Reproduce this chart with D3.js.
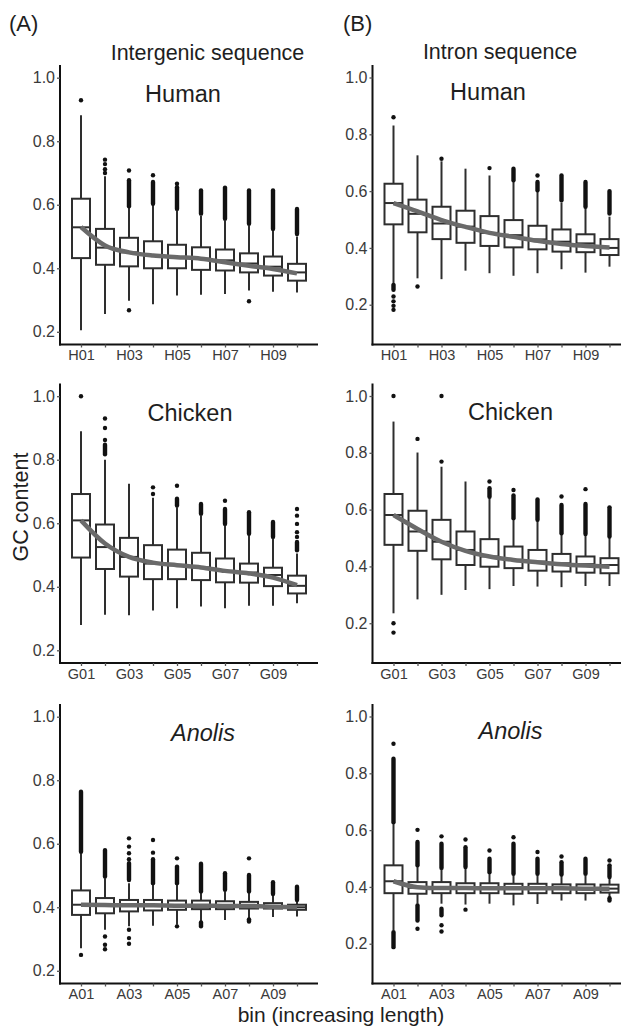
<!DOCTYPE html>
<html><head><meta charset="utf-8">
<script src="https://cdn.jsdelivr.net/npm/d3@7/dist/d3.min.js"></script>
<style>body{margin:0;background:#fff} text{font-family:"Liberation Sans",Arial,sans-serif}</style>
</head><body><svg id="c" width="621" height="1032"></svg>
<script>
// ---------- categories ----------
const binsH = ["H01","H02","H03","H04","H05","H06","H07","H08","H09","H10"];
const binsG = ["G01","G02","G03","G04","G05","G06","G07","G08","G09","G10"];
const binsA = ["A01","A02","A03","A04","A05","A06","A07","A08","A09","A10"];
const yTicks = [0.2, 0.4, 0.6, 0.8, 1.0];

// ---------- box stats per bin: [lower whisker, Q1, median, Q3, upper whisker] ----------
const interHuman = [[0.205,0.432,0.529,0.619,0.882],[0.256,0.411,0.465,0.524,0.69],[0.298,0.406,0.45,0.496,0.593],[0.287,0.40,0.44,0.485,0.60],[0.314,0.40,0.435,0.474,0.58],[0.317,0.395,0.43,0.466,0.565],[0.319,0.393,0.425,0.459,0.55],[0.33,0.387,0.415,0.447,0.535],[0.326,0.377,0.405,0.437,0.52],[0.324,0.361,0.387,0.414,0.50]];
const interHumanSmooth = [0.53,0.472,0.45,0.44,0.435,0.43,0.419,0.408,0.398,0.384];
const interHumanDots = [[0,0.929],[1,0.742],[1,0.728],[1,0.712],[1,0.70],[2,0.708],[2,0.268],[3,0.693],[4,0.666],[7,0.296]];
const interHumanRuns = [[2,0.595,0.677],[3,0.603,0.672],[4,0.587,0.655],[5,0.572,0.645],[6,0.556,0.654],[7,0.54,0.645],[8,0.524,0.645],[9,0.508,0.587]];

const intronHuman = [[0.276,0.483,0.558,0.626,0.831],[0.293,0.455,0.52,0.570,0.726],[0.29,0.431,0.486,0.545,0.705],[0.32,0.418,0.475,0.531,0.679],[0.311,0.407,0.453,0.512,0.655],[0.302,0.402,0.445,0.498,0.632],[0.311,0.395,0.43,0.478,0.60],[0.325,0.387,0.422,0.465,0.56],[0.313,0.385,0.416,0.448,0.54],[0.334,0.375,0.40,0.431,0.51]];
const intronHumanSmooth = [0.558,0.529,0.498,0.474,0.453,0.439,0.425,0.414,0.407,0.401];
const intronHumanDots = [[0,0.86],[0,0.229],[0,0.212],[0,0.196],[0,0.182],[1,0.264],[2,0.714],[4,0.681],[6,0.655]];
const intronHumanRuns = [[0,0.253,0.27],[5,0.638,0.679],[6,0.603,0.632],[7,0.568,0.655],[8,0.545,0.632],[9,0.521,0.60]];

const interChicken = [[0.28,0.492,0.609,0.692,0.89],[0.312,0.456,0.525,0.596,0.80],[0.31,0.432,0.494,0.554,0.724],[0.325,0.424,0.473,0.531,0.68],[0.332,0.424,0.468,0.517,0.65],[0.338,0.421,0.461,0.507,0.624],[0.332,0.414,0.45,0.489,0.593],[0.34,0.413,0.445,0.473,0.562],[0.34,0.402,0.437,0.46,0.551],[0.348,0.379,0.403,0.435,0.505]];
const interChickenSmooth = [0.609,0.536,0.494,0.476,0.468,0.461,0.45,0.442,0.429,0.405];
const interChickenDots = [[0,1.0],[1,0.93],[1,0.90],[1,0.862],[3,0.713],[3,0.692],[4,0.718],[6,0.671],[9,0.645],[9,0.624],[9,0.598],[9,0.572],[9,0.557]];
const interChickenRuns = [[1,0.817,0.847],[4,0.656,0.677],[5,0.63,0.661],[6,0.598,0.645],[7,0.567,0.635],[8,0.557,0.604],[9,0.515,0.541]];

const intronChicken = [[0.235,0.476,0.581,0.655,0.91],[0.284,0.455,0.523,0.596,0.801],[0.30,0.425,0.487,0.564,0.751],[0.317,0.405,0.458,0.523,0.699],[0.32,0.399,0.435,0.496,0.64],[0.331,0.394,0.423,0.47,0.565],[0.329,0.385,0.417,0.458,0.56],[0.327,0.382,0.411,0.444,0.512],[0.331,0.378,0.408,0.435,0.51],[0.331,0.376,0.405,0.429,0.50]];
const intronChickenSmooth = [0.581,0.532,0.487,0.455,0.435,0.423,0.415,0.408,0.403,0.399];
const intronChickenDots = [[0,1.0],[0,0.2],[0,0.167],[1,0.849],[2,1.0],[2,0.769],[4,0.699],[5,0.669],[7,0.646],[8,0.672]];
const intronChickenRuns = [[4,0.645,0.675],[5,0.57,0.65],[6,0.564,0.636],[7,0.517,0.616],[8,0.514,0.62],[9,0.505,0.608]];

const interAnolis = [[0.271,0.376,0.408,0.453,0.57],[0.329,0.381,0.405,0.429,0.491],[0.34,0.387,0.404,0.423,0.476],[0.342,0.39,0.405,0.423,0.47],[0.345,0.392,0.405,0.421,0.47],[0.355,0.394,0.405,0.421,0.445],[0.36,0.394,0.404,0.419,0.45],[0.365,0.396,0.404,0.417,0.445],[0.369,0.396,0.403,0.413,0.438],[0.371,0.392,0.40,0.408,0.418]];
const interAnolisSmooth = [0.408,0.407,0.406,0.406,0.405,0.405,0.404,0.404,0.402,0.40];
const interAnolisDots = [[0,0.25],[1,0.308],[1,0.282],[1,0.268],[2,0.617],[2,0.591],[2,0.57],[2,0.551],[2,0.329],[2,0.303],[2,0.285],[3,0.612],[3,0.572],[4,0.554],[4,0.34],[7,0.554]];
const interAnolisRuns = [[0,0.575,0.764],[1,0.497,0.58],[2,0.486,0.539],[3,0.476,0.551],[4,0.476,0.528],[5,0.45,0.537],[5,0.34,0.352],[6,0.455,0.507],[7,0.45,0.502],[7,0.355,0.362],[8,0.442,0.479],[9,0.423,0.465]];

const intronAnolis = [[0.247,0.378,0.42,0.476,0.622],[0.341,0.376,0.397,0.417,0.47],[0.341,0.378,0.397,0.417,0.462],[0.338,0.378,0.396,0.413,0.465],[0.341,0.378,0.396,0.413,0.447],[0.335,0.376,0.395,0.411,0.441],[0.34,0.378,0.395,0.411,0.441],[0.352,0.378,0.395,0.409,0.44],[0.352,0.378,0.395,0.409,0.44],[0.364,0.38,0.394,0.408,0.43]];
const intronAnolisSmooth = [0.42,0.399,0.396,0.396,0.395,0.395,0.395,0.395,0.394,0.394];
const intronAnolisDots = [[0,0.904],[1,0.601],[1,0.253],[2,0.578],[2,0.265],[2,0.243],[3,0.567],[3,0.32],[4,0.528],[5,0.575],[6,0.523],[7,0.507],[9,0.493]];
const intronAnolisRuns = [[0,0.628,0.851],[0,0.188,0.241],[1,0.476,0.558],[1,0.282,0.335],[2,0.467,0.552],[2,0.30,0.323],[3,0.47,0.54],[4,0.452,0.499],[5,0.446,0.552],[6,0.446,0.499],[7,0.444,0.487],[8,0.446,0.499],[9,0.435,0.476],[9,0.352,0.36]];

// ---------- layout ----------
const svg = d3.select("#c");
const cols = [{x0:60, x1:318, dom:[0.16,1.04]}, {x0:372.5, x1:630.5, dom:[0.06,1.044]}];
const rowTop = [65, 383.5, 704];
const rowH = 279.5;

const panels = [
  {c:0,r:0,bins:binsH,stats:interHuman,smooth:interHumanSmooth,dots:interHumanDots,runs:interHumanRuns,name:"Human",it:false,lx:123,ly:36.7},
  {c:1,r:0,bins:binsH,stats:intronHuman,smooth:intronHumanSmooth,dots:intronHumanDots,runs:intronHumanRuns,name:"Human",it:false,lx:115.5,ly:35},
  {c:0,r:1,bins:binsG,stats:interChicken,smooth:interChickenSmooth,dots:interChickenDots,runs:interChickenRuns,name:"Chicken",it:false,lx:130,ly:37},
  {c:1,r:1,bins:binsG,stats:intronChicken,smooth:intronChickenSmooth,dots:intronChickenDots,runs:intronChickenRuns,name:"Chicken",it:false,lx:138,ly:36.5},
  {c:0,r:2,bins:binsA,stats:interAnolis,smooth:interAnolisSmooth,dots:interAnolisDots,runs:interAnolisRuns,name:"Anolis",it:true,lx:143,ly:37},
  {c:1,r:2,bins:binsA,stats:intronAnolis,smooth:intronAnolisSmooth,dots:intronAnolisDots,runs:intronAnolisRuns,name:"Anolis",it:true,lx:138,ly:35.3}
];

const boxStroke = "#2e2e2e";
panels.forEach(p => {
  const col = cols[p.c];
  const top = rowTop[p.r], bot = top + rowH;
  const x = d3.scalePoint().domain(p.bins).range([col.x0, col.x1]).padding(0.875);
  const y = d3.scaleLinear().domain(col.dom).range([bot, top]);
  const g = svg.append("g");
  const bw = 18;

  // boxes
  p.stats.forEach((s, i) => {
    const cx = x(p.bins[i]);
    g.append("line").attr("x1",cx).attr("x2",cx).attr("y1",y(s[0])).attr("y2",y(s[1])).attr("stroke",boxStroke).attr("stroke-width",2);
    g.append("line").attr("x1",cx).attr("x2",cx).attr("y1",y(s[3])).attr("y2",y(s[4])).attr("stroke",boxStroke).attr("stroke-width",2);
    g.append("rect").attr("x",cx-bw/2).attr("width",bw).attr("y",y(s[3])).attr("height",y(s[1])-y(s[3]))
      .attr("fill","#fff").attr("stroke",boxStroke).attr("stroke-width",2);
    g.append("line").attr("x1",cx-bw/2).attr("x2",cx+bw/2).attr("y1",y(s[2])).attr("y2",y(s[2])).attr("stroke",boxStroke).attr("stroke-width",2);
  });
  // outlier runs
  p.runs.forEach(r => {
    const cx = x(p.bins[r[0]]);
    g.append("line").attr("x1",cx).attr("x2",cx).attr("y1",y(r[1])).attr("y2",y(r[2]))
      .attr("stroke","#111").attr("stroke-width",4.4).attr("stroke-linecap","round");
  });
  // outlier dots
  p.dots.forEach(d => {
    g.append("circle").attr("cx",x(p.bins[d[0]])).attr("cy",y(d[1])).attr("r",2.2).attr("fill","#111");
  });
  // smooth
  const line = d3.line().x((d,i)=>x(p.bins[i])).y(d=>y(d)).curve(d3.curveMonotoneX);
  g.append("path").attr("d",line(p.smooth)).attr("fill","none").attr("stroke","#6a6a6a").attr("stroke-width",4.5).attr("stroke-linecap","butt");

  // axes
  const ya = g.append("g").attr("transform",`translate(${col.x0},0)`)
    .call(d3.axisLeft(y).tickValues(yTicks).tickFormat(d3.format(".1f")).tickSize(3).tickSizeOuter(0).tickPadding(2));
  const xa = g.append("g").attr("transform",`translate(0,${bot})`)
    .call(d3.axisBottom(x).tickSize(3).tickSizeOuter(0).tickPadding(2.6).tickFormat((d,i)=> i%2===0 ? d : ""));
  [ya, xa].forEach(a => {
    a.select(".domain").attr("stroke","#111").attr("stroke-width",2);
    a.selectAll(".tick line").attr("stroke","#555").attr("stroke-width",1.3);
    a.selectAll("text").attr("fill","#3a3a3a").style("font-family","'Liberation Sans',Arial,sans-serif");
  });
  ya.selectAll("text").style("font-size","16px");
  xa.selectAll("text").style("font-size","14.5px");
  // extend domains so they meet at the corner
  ya.select(".domain").attr("d",`M0,${bot+1}V${top}`);
  xa.select(".domain").attr("d",`M${col.x0-1},0H${col.x1}`);

  // species label
  g.append("text").attr("x",col.x0+p.lx).attr("y",top+p.ly).attr("text-anchor","middle")
    .style("font-size","23.5px").style("font-style",p.it?"italic":"normal").attr("fill","#1e1e1e").text(p.name);
});

// titles
svg.append("text").attr("x",9).attr("y",31).style("font-size","22px").attr("fill","#1e1e1e").text("(A)");
svg.append("text").attr("x",343).attr("y",31).style("font-size","22px").attr("fill","#1e1e1e").text("(B)");
svg.append("text").attr("x",207.5).attr("y",60).attr("text-anchor","middle").style("font-size","21.5px").attr("fill","#1e1e1e").text("Intergenic sequence");
svg.append("text").attr("x",500).attr("y",59).attr("text-anchor","middle").style("font-size","21.5px").attr("fill","#1e1e1e").text("Intron sequence");
svg.append("text").attr("transform","translate(28,507) rotate(-90)").attr("text-anchor","middle").style("font-size","21.5px").attr("fill","#1e1e1e").text("GC content");
svg.append("text").attr("x",341).attr("y",1022).attr("text-anchor","middle").style("font-size","21px").attr("fill","#1e1e1e").text("bin (increasing length)");
</script></body></html>
